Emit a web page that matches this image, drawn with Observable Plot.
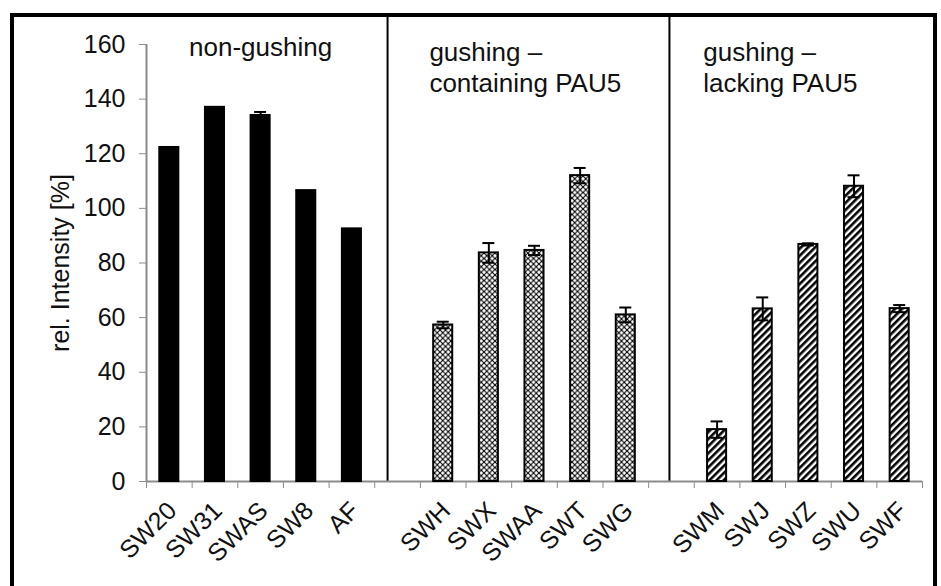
<!DOCTYPE html>
<html>
<head>
<meta charset="utf-8">
<script src="https://cdn.jsdelivr.net/npm/d3@7"></script>
<script src="https://cdn.jsdelivr.net/npm/@observablehq/plot@0.6"></script>
<style>
  body { margin: 0; background: #fff; width: 941px; height: 586px; overflow: hidden; position: relative; }
  #frame { position: absolute; left: 10px; top: 13px; width: 919px; height: 620px; border: 4px solid #000; border-bottom: none; }
  #chart { position: absolute; left: 0; top: 0; }
</style>
</head>
<body>
<div id="frame"></div>
<div id="chart"></div>
<script>
// Strain groups, their titles and relative intensities (mean and error)
const groupTitles = [
  ["non-gushing"],
  ["gushing –", "containing PAU5"],
  ["gushing –", "lacking PAU5"]
];
const strains = [
  ["SW20", "SW31", "SWAS", "SW8", "AF"],
  ["SWH", "SWX", "SWAA", "SWT", "SWG"],
  ["SWM", "SWJ", "SWZ", "SWU", "SWF"]
];
const intensity = [
  [122.3, 137.0, 134.0, 106.5, 92.5],
  [57.3, 83.7, 84.6, 112.0, 61.0],
  [19.0, 63.2, 86.8, 108.1, 63.3]
];
const errors = [
  [0, 0, 1.3, 0, 0],
  [1.2, 3.6, 1.7, 2.8, 2.7],
  [3.0, 4.2, 0.4, 4.0, 1.3]
];
const yTicks = [0, 20, 40, 60, 80, 100, 120, 140, 160];

// Layout: each group takes five slots, with one empty slot between groups
const slotsPerGroup = strains[0].length + 1;
const nSlots = strains.length * slotsPerGroup - 1;
const rows = strains.flatMap((names, g) => names.map((name, j) => ({
  group: g, name, slot: g * slotsPerGroup + j,
  value: intensity[g][j], err: errors[g][j]
})));
const withErr = rows.filter(d => d.err > 0);
const gapSlots = d3.range(1, strains.length).map(g => g * slotsPerGroup - 1);
const fills = ["#000", "url(#crosshatch)", "url(#stripes)"];
const axisGray = "#8c8c8c";
const font = "'Liberation Sans', Arial, sans-serif";

const plot = Plot.plot({
  width: 941,
  height: 586,
  marginLeft: 146,
  marginRight: 19,
  marginTop: 44,
  marginBottom: 105,
  style: { fontFamily: font, fontSize: "25px", color: "#111", background: "transparent" },
  x: { domain: [0, nSlots], axis: null },
  y: { domain: [0, 160], axis: null },
  color: { type: "identity" },
  marks: [
    // group dividers, running up to the top of the frame
    Plot.ruleX([gapSlots[0]], { x: d => d + 0.5, y1: 160, y2: 0, insetTop: -29, dx: -10, stroke: "#000", strokeWidth: 2 }),
    Plot.ruleX(gapSlots.slice(1), { x: d => d + 0.5, y1: 160, y2: 0, insetTop: -29, dx: -2, stroke: "#000", strokeWidth: 2 }),
    // axes
    Plot.axisY(yTicks, { tickSize: 7, tickPadding: 14, stroke: axisGray, fill: "#111", fontSize: 25, label: null }),
    Plot.axisX(d3.range(nSlots + 1), { tickSize: 7, tickFormat: () => "", stroke: axisGray, label: null }),
    Plot.ruleX([0], { y1: 0, y2: 160, stroke: axisGray, strokeWidth: 2 }),
    Plot.ruleY([0], { x1: 0, x2: nSlots, stroke: axisGray, strokeWidth: 2 }),
    // bars
    Plot.rectY(rows, {
      x1: "slot", x2: d => d.slot + 1, y1: 0, y2: "value",
      fill: d => fills[d.group], stroke: "#000", strokeWidth: 2,
      insetLeft: 13.3, insetRight: 13.3
    }),
    // error bars
    Plot.ruleX(withErr, { x: d => d.slot + 0.5, y1: d => d.value - d.err, y2: d => d.value + d.err, stroke: "#000", strokeWidth: 2 }),
    Plot.ruleY(withErr, { x1: d => d.slot + 0.5, x2: d => d.slot + 0.5, y: d => d.value + d.err, insetLeft: -6, insetRight: -6, stroke: "#000", strokeWidth: 2 }),
    Plot.ruleY(withErr, { x1: d => d.slot + 0.5, x2: d => d.slot + 0.5, y: d => d.value - d.err, insetLeft: -6, insetRight: -6, stroke: "#000", strokeWidth: 2 }),
    // strain labels
    Plot.text(rows, {
      x: d => d.slot + 0.5, y: 0, text: "name", rotate: -45,
      textAnchor: "end", lineAnchor: "middle", dx: 3, dy: 25,
      fontSize: 25, fill: "#111"
    }),
    // group titles
    Plot.text([groupTitles[0].join("\n")], {
      x: (slotsPerGroup - 1) / 2, y: 160, text: d => d, textAnchor: "middle",
      lineAnchor: "middle", dy: 3, fontSize: 26, fill: "#111"
    }),
    Plot.text(groupTitles.slice(1).map((t, i) => ({ t: t.join("\n"), slot: (i + 1) * slotsPerGroup })), {
      x: "slot", y: 160, text: "t", textAnchor: "start", lineAnchor: "middle",
      lineHeight: 1.2, dx: 9, dy: 22, fontSize: 26, fill: "#111"
    }),
    // y-axis title
    Plot.text(["rel. Intensity [%]"], {
      frameAnchor: "left", rotate: -90, dx: -86, text: d => d,
      textAnchor: "middle", lineAnchor: "middle", fontSize: 25, fill: "#111"
    })
  ]
});

// fill patterns for the gushing groups
const defs = d3.select(plot).insert("defs", ":first-child");
const ch = defs.append("pattern").attr("id", "crosshatch")
  .attr("patternUnits", "userSpaceOnUse").attr("width", 5.5).attr("height", 5.5);
ch.append("rect").attr("width", 5.5).attr("height", 5.5).attr("fill", "#fff");
ch.append("path").attr("d", "M0,0L5.5,5.5M5.5,0L0,5.5").attr("stroke", "#000").attr("stroke-width", 1.1);
const st = defs.append("pattern").attr("id", "stripes")
  .attr("patternUnits", "userSpaceOnUse").attr("width", 5).attr("height", 5)
  .attr("patternTransform", "rotate(45)");
st.append("rect").attr("width", 5).attr("height", 5).attr("fill", "#fff");
st.append("rect").attr("width", 2.6).attr("height", 5).attr("fill", "#000");

document.getElementById("chart").append(plot);
</script>
</body>
</html>
